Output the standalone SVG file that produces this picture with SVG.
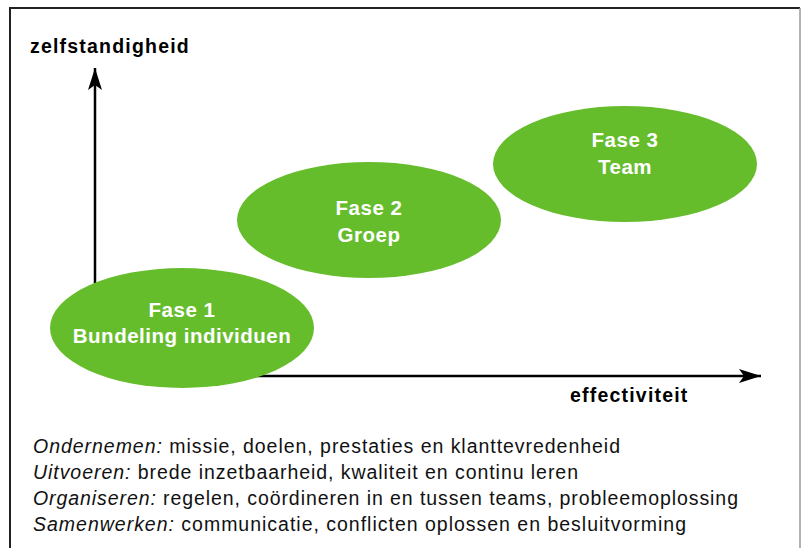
<svg xmlns="http://www.w3.org/2000/svg" width="802" height="548" viewBox="0 0 802 548">
  <defs>
    <style>
      .frame { fill: none; stroke: #222; stroke-width: 2; }
      .frame-r { stroke: #999; stroke-width: 1.5; }
      .axis { fill: none; stroke: #000; stroke-width: 2.5; }
      .phase { fill: #66BD2C; }
      .ptxt { font-family: "Liberation Sans", Arial, sans-serif; font-weight: bold; font-size: 20.5px; letter-spacing: 0.5px; fill: #fff; text-anchor: middle; }
      .atxt { font-family: "Liberation Sans", Arial, sans-serif; font-weight: bold; font-size: 19.5px; letter-spacing: 1.2px; fill: #000; }
      .legend { font-family: "Liberation Sans", Arial, sans-serif; font-size: 19.5px; fill: #111; }
      .legend tspan.k { font-style: italic; }
    </style>
    <marker id="arrow" markerWidth="24" markerHeight="14" refX="22" refY="7" orient="auto" markerUnits="userSpaceOnUse">
      <path d="M0,0 L22,7 L0,14 L5,7 Z" fill="#000"/>
    </marker>
  </defs>

  <!-- frame: top and left dark, right light -->
  <path class="frame" d="M10,548 L10,8 L800,8"/>
  <line class="frame-r" x1="800" y1="8" x2="800" y2="548"/>

  <!-- axes, both starting underneath the first phase -->
  <g id="connectors">
    <path class="axis" d="M95,320 L95,68" marker-end="url(#arrow)"/>
    <path class="axis" d="M200,376 L761,376" marker-end="url(#arrow)"/>
  </g>

  <text class="atxt" x="30" y="53">zelfstandigheid</text>
  <text class="atxt" x="570" y="402">effectiviteit</text>

  <g id="fase1">
    <ellipse class="phase" cx="182" cy="328" rx="132" ry="60"/>
    <text class="ptxt" x="182" y="317">Fase 1</text>
    <text class="ptxt" x="182" y="343">Bundeling individuen</text>
  </g>
  <g id="fase2">
    <ellipse class="phase" cx="369" cy="220" rx="132" ry="58"/>
    <text class="ptxt" x="369" y="215">Fase 2</text>
    <text class="ptxt" x="369" y="242">Groep</text>
  </g>
  <g id="fase3">
    <ellipse class="phase" cx="625" cy="164" rx="132" ry="58"/>
    <text class="ptxt" x="625" y="147">Fase 3</text>
    <text class="ptxt" x="625" y="174">Team</text>
  </g>

  <g id="legend">
    <text class="legend" x="33" y="453" textLength="587" lengthAdjust="spacing"><tspan class="k">Ondernemen:</tspan> missie, doelen, prestaties en klanttevredenheid</text>
    <text class="legend" x="33" y="479" textLength="545" lengthAdjust="spacing"><tspan class="k">Uitvoeren:</tspan> brede inzetbaarheid, kwaliteit en continu leren</text>
    <text class="legend" x="33" y="505" textLength="705" lengthAdjust="spacing"><tspan class="k">Organiseren:</tspan> regelen, coördineren in en tussen teams, probleemoplossing</text>
    <text class="legend" x="33" y="531" textLength="653" lengthAdjust="spacing"><tspan class="k">Samenwerken:</tspan> communicatie, conflicten oplossen en besluitvorming</text>
  </g>
</svg>
